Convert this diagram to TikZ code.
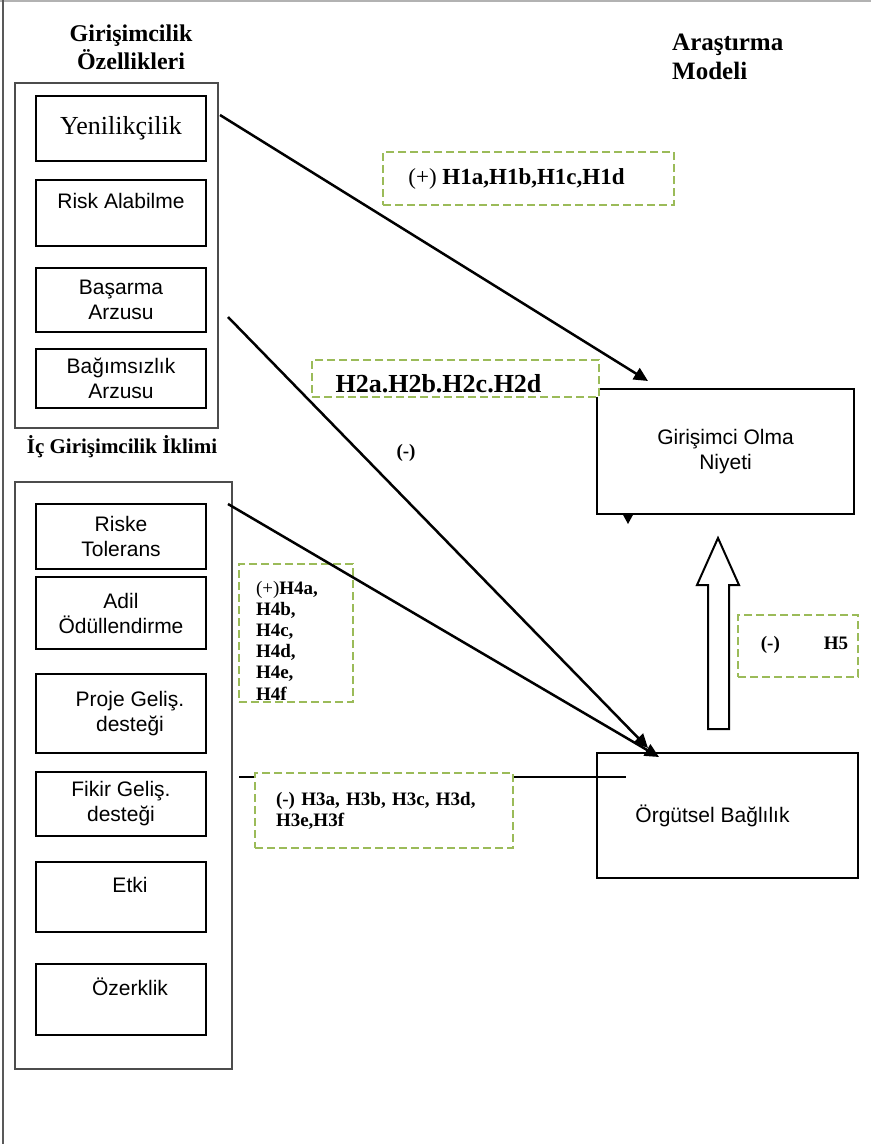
\documentclass[tikz,border=0pt]{standalone}
\usepackage{fontspec}
\setmainfont{Liberation Serif}
\newfontfamily\arialfont{Liberation Sans}
\usetikzlibrary{arrows.meta}
\definecolor{hypgreen}{RGB}{155,187,89}

\begin{document}
\begin{tikzpicture}[x=1pt, y=-1pt,
        item/.style={rectangle, draw, line width=2pt, minimum width=170pt, align=center, inner sep=2pt, font=\arialfont\fontsize{21}{25}\selectfont},
        group/.style={rectangle, draw=black!70, line width=1.3pt},
        hyp/.style={rectangle, draw=hypgreen, line width=2.5pt, dash pattern=on 8pt off 4pt, fill=white, inner sep=0pt, font=\fontsize{19}{21.2}\selectfont\bfseries},
        link/.style={line width=2.5pt, -{Triangle[length=14pt, width=13pt]}},
        title/.style={align=center, inner sep=0pt, font=\fontsize{24}{28}\selectfont\bfseries}]
        \useasboundingbox (0,0) rectangle (871,1144);
        \draw[black!30, line width=1.5pt] (0,1) -- (871,1);
        \draw[black!65, line width=1.5pt] (3,0) -- (3,1144);

        \node[title] (traitstitle) at (131,47) {Girişimcilik\\Özellikleri};
        \node[title, align=left, anchor=west, font=\fontsize{25}{29}\selectfont\bfseries] (modeltitle) at (672,57) {Araştırma\\Modeli};
        \node[title, font=\fontsize{21}{25}\selectfont\bfseries] (climatetitle) at (122,447) {İç Girişimcilik İklimi};

        \node[group, minimum width=203pt, minimum height=345pt] (traits) at (116.5,255.5) {};
        \node[item, minimum height=65pt, font=\rmfamily\fontsize{26}{30}\selectfont] (innov) at (121,128.5) {Yenilikçilik};
        \node[item, minimum height=66pt] (risk) at (121,213) {Risk Alabilme\\~};
        \node[item, minimum height=64pt] (achieve) at (121,300) {Başarma\\Arzusu};
        \node[item, minimum height=59pt] (indep) at (121,378.5) {Bağımsızlık\\Arzusu};

        \node[group, minimum width=217pt, minimum height=587pt] (climate) at (123.5,775.5) {};
        \node[item, minimum height=65pt] (tolerance) at (121,536.5) {Riske\\Tolerans};
        \node[item, minimum height=72pt] (reward) at (121,613) {Adil\\Ödüllendirme};
        \node[item, minimum height=79pt] (project) at (121,713.5) {\hspace*{18pt}Proje Geliş.\\\hspace*{18pt}desteği};
        \node[item, minimum height=64pt] (idea) at (121,804) {Fikir Geliş.\\desteği};
        \node[item, minimum height=70pt] (impact) at (121,897) {\hspace*{18pt}Etki\\~};
        \node[item, minimum height=71pt] (autonomy) at (121,999.5) {\hspace*{18pt}Özerklik\\~};

        \node[item, minimum width=257pt, minimum height=125pt] (intention) at (725.5,451.5) {Girişimci Olma\\Niyeti};
        \node[item, minimum width=261pt, minimum height=125pt] (commitment) at (727.5,815.5) {Örgütsel Bağlılık\hspace*{30pt}};
        \fill (622,513) -- (634,513) -- (628,524) -- cycle;
        \draw[line width=2pt, fill=white] (708,729) -- (708,585) -- (697,585) -- (718,538) -- (739,585) -- (729,585) -- (729,729) -- cycle;

        \node[hyp, fill=none, minimum width=114pt, minimum height=138pt, text width=80pt, align=left] (h4) at (296,633) {\rule{0pt}{28pt}\mdseries(+)\bfseries H4a,\\H4b,\\H4c,\\H4d,\\H4e,\\H4f};

        \coordinate (innovout) at (220,115);
        \coordinate (achieveout) at (228,317);
        \coordinate (toleranceout) at (228,504);
        \coordinate (ideaout) at (239,777);
        \coordinate (intentionin) at (648,381);
        \coordinate (commitmentin) at (648,748);
        \coordinate (commitmentin2) at (659,757);
        \coordinate (commitmentend) at (626,777);
        \draw[link] (innovout) -- (intentionin);
        \draw[link] (achieveout) -- (commitmentin);
        \draw[link] (toleranceout) -- (commitmentin2);
        \draw[line width=2.5pt] (ideaout) -- (commitmentend);

        \node[hyp, minimum width=291pt, minimum height=53pt, font=\fontsize{23}{27}\selectfont\bfseries] (h1) at (528.5,178.5) {\mdseries(+) \bfseries H1a,H1b,H1c,H1d\hspace*{24pt}};
        \node[hyp, minimum width=287pt, minimum height=37pt, font=\fontsize{26}{30}\selectfont\bfseries] (h2) at (455.5,378.5) {\raisebox{-14pt}[0pt][0pt]{H2a.H2b.H2c.H2d}\hspace*{34pt}};
        \node[font=\fontsize{19}{21}\selectfont\bfseries] (minus) at (406,453) {(-)};
        \node[hyp, minimum width=258pt, minimum height=75pt, text width=216pt, align=left] (h3) at (384,810.5) {(-) H3a, H3b, H3c, H3d,\\H3e,H3f};
        \node[hyp, minimum width=120pt, minimum height=62pt] (h5) at (798,646) {\raisebox{6pt}{\hspace*{13pt}(-)\hspace*{44pt}H5}};
    \end{tikzpicture}
\end{document}
